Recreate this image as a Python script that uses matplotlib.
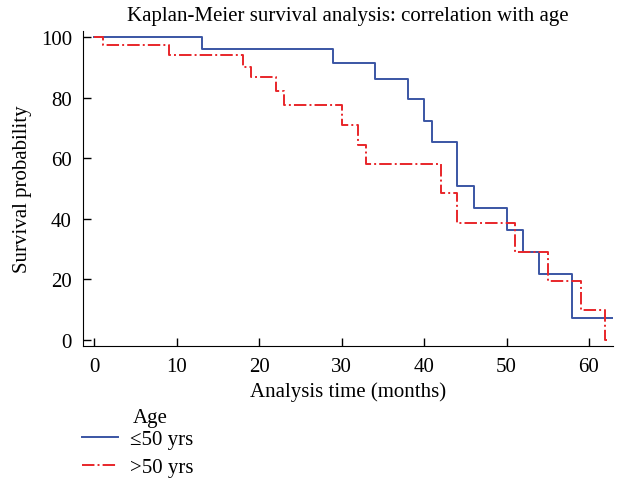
import numpy as np
import matplotlib
matplotlib.use("Agg")
import matplotlib.pyplot as plt

plt.rcParams["font.family"] = ["Liberation Serif", "DejaVu Serif"]

# Kaplan-Meier step points (time in months, survival %)
time_young = [0, 13, 29, 34, 38, 40, 41, 44, 46, 50, 52, 54, 58, 63]
surv_young = [100, 96.2, 91.5, 86.0, 79.7, 72.4, 65.2, 50.8, 43.4, 36.4, 29.0, 21.7, 7.2, 7.2]

time_old = [0, 1, 9, 18, 19, 22, 23, 30, 32, 33, 42, 44, 51, 55, 59, 62, 62.2]
surv_old = [100, 97.3, 94.1, 90.2, 86.8, 82.2, 77.6, 71.0, 64.4, 58.0, 48.6, 38.7, 29.0, 19.5, 9.8, 0, 0]

x_ticks = [0, 10, 20, 30, 40, 50, 60]
y_ticks = [0, 20, 40, 60, 80, 100]

fs = 15

fig = plt.figure(figsize=(6.19, 4.85), dpi=100)
ax = fig.add_axes([0.134, 0.285, 0.856, 0.649])

ax.step(time_young, surv_young, where='post', color='#3a55a4', linewidth=1.4,
        label='\u226450 yrs')
ax.step(time_old, surv_old, where='post', color='#e8262a', linewidth=1.4,
        linestyle='-.', label='>50 yrs')

ax.set_xlim(-1.4, 62.9)
ax.set_ylim(-2, 102)
ax.set_xticks(x_ticks)
ax.set_yticks(y_ticks)
ax.spines['top'].set_visible(False)
ax.spines['right'].set_visible(False)
ax.tick_params(direction='in', length=6, width=1, labelsize=fs, pad=8)
ax.set_xlabel('Analysis time (months)', fontsize=fs, labelpad=4)
ax.set_ylabel('Survival probability', fontsize=fs, labelpad=6)
ax.set_title('Kaplan-Meier survival analysis: correlation with age',
             fontsize=fs, pad=8)

leg = fig.legend(loc='upper left', bbox_to_anchor=(0.133, 0.112),
                 frameon=False, fontsize=fs, handlelength=1.7,
                 handletextpad=0.6, labelspacing=0.4, borderaxespad=0,
                 borderpad=0)
fig.text(0.215, 0.138, 'Age', fontsize=fs, ha='left', va='center')

fig.savefig("out.png", dpi=100)
